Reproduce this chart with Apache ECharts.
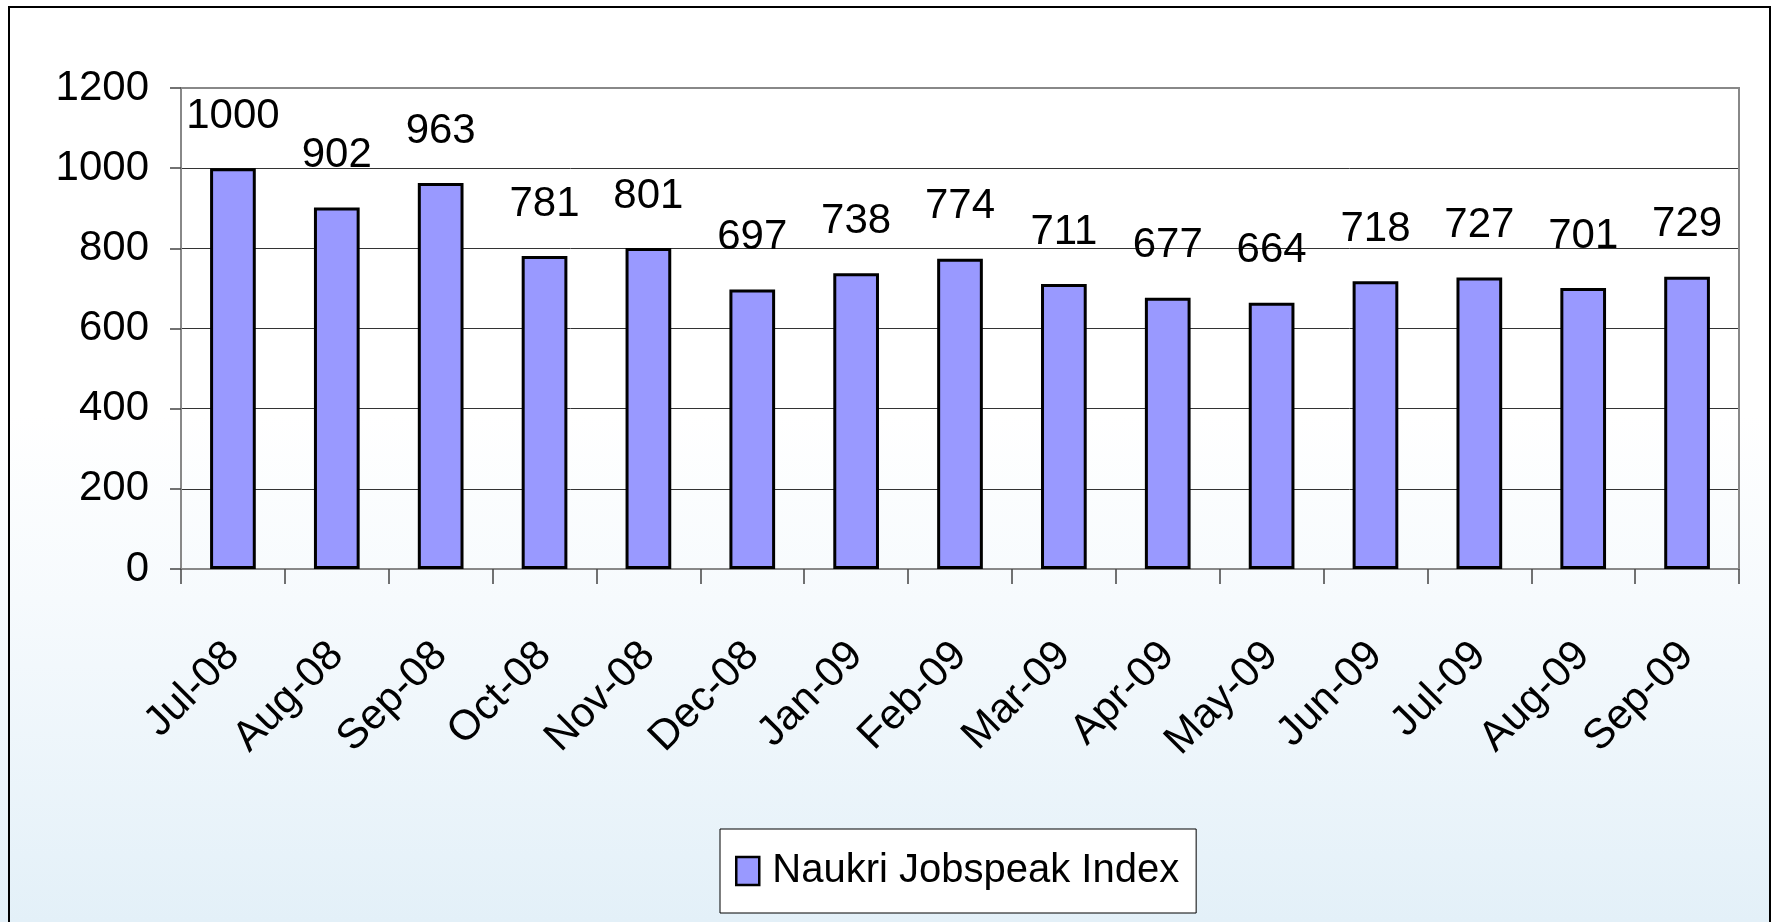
<!DOCTYPE html>
<html>
<head>
<meta charset="utf-8">
<script src="https://cdn.jsdelivr.net/npm/echarts@6/dist/echarts.min.js"></script>
<style>
  html, body { margin: 0; padding: 0; }
  body { background: linear-gradient(to bottom, #ffffff 0%, #ffffff 45%, #f6fafd 65%, #e3f0f8 100%); }
  #chart { width: 1771px; height: 922px; }
</style>
</head>
<body>
<div id="chart"></div>
<script>
// monthly index values
var months = ['Jul-08', 'Aug-08', 'Sep-08', 'Oct-08', 'Nov-08', 'Dec-08', 'Jan-09', 'Feb-09',
  'Mar-09', 'Apr-09', 'May-09', 'Jun-09', 'Jul-09', 'Aug-09', 'Sep-09'];
var jobspeak = [1000, 902, 963, 781, 801, 697, 738, 774, 711, 677, 664, 718, 727, 701, 729];
var seriesName = 'Naukri Jobspeak Index';

var FONT = "'Liberation Sans Narrow', 'Arial Narrow', 'Liberation Sans', Arial, sans-serif";

var myChart = echarts.init(document.getElementById('chart'));
var option = {
  backgroundColor: 'transparent',
  animation: false,
  textStyle: { fontFamily: FONT },
  graphic: [
    // outer frame, no bottom edge
    { type: 'polyline', shape: { points: [[9, 922], [9, 7], [1770, 7], [1770, 922]] },
      style: { stroke: '#000', lineWidth: 2, fill: null }, z: -1 },
    // plot border top/right
    { type: 'polyline', shape: { points: [[181, 88], [1739, 88], [1739, 569]] },
      style: { stroke: '#888', lineWidth: 2, fill: null }, z: 5 }
  ],
  grid: { left: 181, right: 32, top: 88, bottom: 353, containLabel: false },
  legend: {
    data: [seriesName],
    left: 720, top: 829,
    padding: [22, 17, 22, 15],
    backgroundColor: '#fff',
    borderColor: '#000', borderWidth: 1,
    itemWidth: 23, itemHeight: 28, itemGap: 10,
    icon: 'rect',
    itemStyle: { borderColor: '#000', borderWidth: 2.5 },
    textStyle: { fontFamily: FONT, fontSize: 40, color: '#000', padding: [0, 0, 0, 8] }
  },
  xAxis: {
    type: 'category',
    data: months,
    axisLine: { lineStyle: { color: '#888', width: 2 } },
    axisTick: { show: true, length: 15, lineStyle: { color: '#444', width: 1.5 } },
    axisLabel: { rotate: 45, margin: 80, fontFamily: FONT, fontSize: 42, color: '#000', interval: 0 }
  },
  yAxis: {
    type: 'value',
    min: 0, max: 1200, interval: 200,
    axisLine: { show: true, lineStyle: { color: '#888', width: 2 } },
    axisTick: { show: true, length: 11, lineStyle: { color: '#444', width: 1.5 } },
    axisLabel: {
      margin: 32, fontFamily: FONT, fontSize: 42, color: '#000',
      formatter: function (v) { return String(v); }
    },
    splitLine: { lineStyle: { color: '#333', width: 1 } }
  },
  series: [{
    name: seriesName,
    type: 'bar',
    data: jobspeak,
    barWidth: '44%',
    itemStyle: { color: '#9999ff', borderColor: '#000', borderWidth: 3 },
    label: {
      show: true, position: 'top', distance: 31,
      fontFamily: FONT, fontSize: 42, color: '#000'
    }
  }]
};
myChart.setOption(option);
</script>
</body>
</html>
